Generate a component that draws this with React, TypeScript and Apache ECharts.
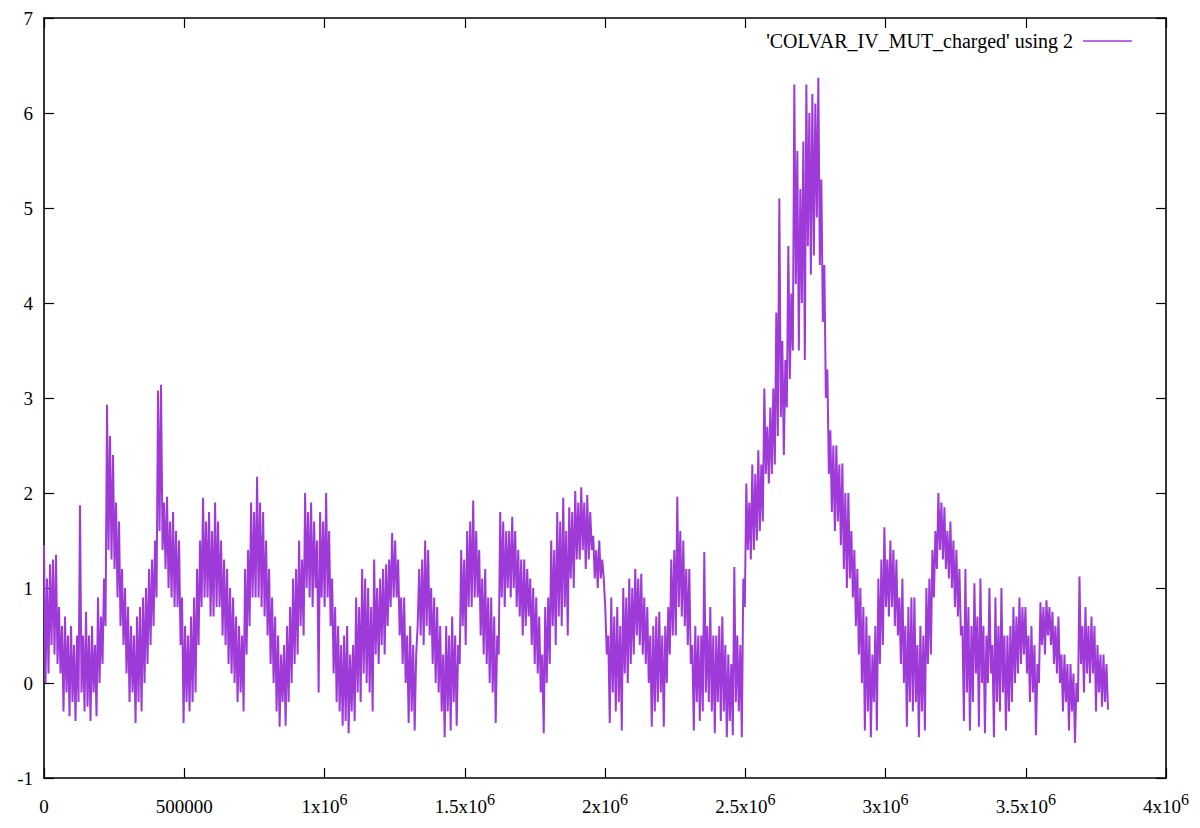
import React, { useEffect, useRef } from 'react';
import * as echarts from 'echarts';

// x is the row index of the COLVAR file ("using 2"), one sample every SAMPLE_STEP rows
const SAMPLE_STEP = 5350;

const COLVAR_VALUES: number[] = [
  1.45, 0.0, 1.1, 0.1, 1.25, 0.4, 1.3, 0.3, 1.35, 0.2, 0.8, 0.1, 0.6, -0.3, 0.7, -0.1, 0.5, -0.35, 0.6, -0.2,
  0.4, -0.4, 0.5, -0.2, 1.87, -0.1, 0.5, -0.3, 0.75, -0.25, 0.5, -0.4, 0.6, -0.1, 0.4, -0.35, 0.9, 0.0, 0.7, 0.2,
  1.1, 0.6, 2.93, 1.4, 2.6, 1.3, 2.4, 1.2, 1.9, 0.9, 1.7, 0.6, 1.2, 0.4, 1.0, 0.1, 0.8, -0.2, 0.6, -0.1,
  0.5, -0.42, 0.7, -0.2, 0.8, -0.3, 0.9, 0.0, 1.0, 0.2, 1.2, 0.4, 1.3, 0.6, 1.5, 0.9, 3.08, 1.6, 3.14, 1.4,
  1.9, 1.2, 1.96, 1.0, 1.7, 0.9, 1.8, 0.8, 1.6, 0.8, 1.5, 0.4, 0.9, -0.42, 0.6, -0.2, 0.5, -0.3, 0.7, -0.2,
  0.9, -0.1, 1.2, 0.4, 1.5, 0.8, 1.95, 0.9, 1.7, 0.9, 1.8, 0.7, 1.6, 0.7, 1.9, 0.8, 1.7, 0.8, 1.5, 0.5,
  1.3, 0.4, 1.2, 0.2, 1.0, 0.1, 0.9, 0.0, 0.7, -0.2, 0.6, -0.1, 0.5, -0.3, 1.2, 0.3, 1.4, 0.6, 1.9, 0.9,
  1.8, 0.9, 2.17, 0.9, 1.9, 0.8, 1.8, 0.7, 1.5, 0.5, 1.2, 0.2, 0.9, 0.0, 0.7, -0.3, 0.5, -0.46, 0.3, -0.2,
  0.4, -0.45, 0.6, -0.2, 0.8, 0.0, 1.1, 0.2, 1.2, 0.3, 1.5, 0.6, 1.3, 0.5, 2.0, 1.0, 1.8, 0.9, 1.9, 0.8,
  1.7, 1.0, 1.5, -0.1, 1.8, 0.9, 1.7, 0.8, 2.0, 0.9, 1.6, 0.6, 1.1, 0.1, 0.8, -0.2, 0.6, -0.3, 0.4, -0.45,
  0.5, -0.4, 0.6, -0.53, 0.3, -0.3, 0.4, -0.4, 0.9, -0.1, 0.8, -0.2, 1.2, 0.1, 1.1, 0.0, 1.0, -0.1, 0.8, -0.3,
  1.3, 0.3, 1.0, 0.2, 1.1, 0.4, 1.2, 0.3, 1.25, 0.6, 1.3, 0.8, 1.58, 0.9, 1.5, 0.9, 1.3, 0.5, 0.9, 0.2,
  0.9, 0.0, 0.5, -0.42, 0.6, -0.3, 0.4, -0.5, 0.3, 0.6, 1.2, 0.5, 1.3, 0.4, 1.5, 0.6, 1.4, 0.5, 1.0, 0.2,
  0.9, 0.0, 0.8, -0.1, 0.6, -0.3, 0.3, -0.57, 0.6, -0.3, 0.5, -0.5, 0.7, -0.2, 0.5, -0.45, 0.4, 0.2, 1.4, 0.6,
  1.3, 0.4, 1.6, 0.8, 1.7, 0.8, 1.92, 0.9, 1.6, 0.9, 1.4, 0.5, 1.1, 0.3, 1.2, 0.2, 0.9, 0.0, 0.9, -0.1,
  0.7, -0.42, 0.5, 0.3, 1.8, 0.9, 1.7, 0.8, 1.6, 1.0, 1.6, 0.9, 1.75, 1.0, 1.6, 0.8, 1.4, 0.7, 1.3, 0.5,
  1.3, 0.6, 1.2, 0.7, 1.1, 0.4, 1.0, 0.2, 0.9, 0.1, 0.7, -0.1, 0.3, -0.53, 0.8, 0.0, 0.9, 0.2, 1.5, 0.6,
  1.4, 0.4, 1.8, 0.7, 1.7, 0.6, 1.95, 0.8, 1.6, 0.5, 1.85, 1.1, 1.8, 1.0, 2.02, 1.3, 1.9, 1.3, 2.06, 1.4,
  1.9, 1.2, 1.98, 1.3, 1.8, 1.4, 1.55, 1.1, 1.4, 1.0, 1.5, 1.1, 1.3, 1.1, 0.8, 0.3, 0.5, -0.42, 0.9, -0.1,
  0.7, -0.3, 0.8, -0.2, 0.6, -0.5, 1.0, 0.1, 0.9, 0.0, 1.1, 0.2, 1.0, 0.3, 1.2, 0.5, 1.1, 0.4, 1.15, 0.3,
  0.9, 0.2, 0.8, 0.0, 0.5, -0.46, 0.6, -0.3, 0.7, -0.2, 0.75, -0.1, 0.5, -0.46, 0.6, 0.0, 0.8, 0.3, 1.3, 0.5,
  1.4, 0.5, 1.96, 0.8, 1.6, 0.7, 1.5, 0.6, 1.2, 0.4, 1.2, 0.2, 0.4, -0.5, 0.6, -0.2, 0.5, -0.4, 0.5, -0.3,
  1.38, -0.1, 0.6, -0.2, 0.8, -0.3, 0.5, -0.53, 0.5, -0.2, 0.6, -0.4, 0.7, -0.3, 0.4, -0.57, 0.3, -0.4, 0.2, -0.55,
  1.22, -0.2, 0.5, -0.3, 0.4, -0.57, 1.1, 0.8, 2.1, 1.4, 1.9, 1.3, 2.3, 1.4, 2.2, 1.5, 2.45, 1.6, 2.3, 1.7,
  3.1, 2.2, 2.7, 2.1, 2.9, 2.2, 3.1, 2.3, 3.9, 2.6, 5.1, 2.8, 3.6, 2.4, 3.4, 2.9, 4.6, 3.2, 4.1, 3.5,
  6.3, 4.2, 5.6, 3.5, 5.2, 4.0, 5.7, 3.4, 6.3, 4.6, 6.0, 4.3, 6.2, 4.5, 6.1, 4.9, 6.37, 4.4, 5.3, 3.8,
  4.4, 3.0, 3.3, 2.2, 2.66, 1.8, 2.5, 1.6, 2.5, 1.7, 2.3, 1.45, 2.31, 1.2, 2.0, 1.0, 2.0, 1.1, 1.6, 0.9,
  1.4, 0.6, 1.2, 0.3, 1.0, 0.0, 0.8, -0.5, 0.7, -0.3, 0.5, -0.57, 0.3, -0.2, 0.6, -0.5, 1.1, 0.2, 1.3, 0.4,
  1.64, 0.8, 1.3, 0.7, 1.5, 0.8, 1.4, 0.6, 1.3, 0.5, 0.9, 0.2, 1.1, 0.0, 0.6, -0.46, 0.8, -0.2, 0.9, -0.3,
  0.9, -0.2, 0.4, -0.57, 0.6, -0.3, 0.5, -0.5, 1.0, 0.2, 1.1, 0.3, 1.4, 0.9, 1.6, 1.2, 2.0, 1.4, 1.9, 1.3,
  1.85, 1.2, 1.6, 1.1, 1.7, 1.0, 1.5, 0.8, 1.4, 0.7, 1.2, 0.5, 0.6, -0.4, 1.2, -0.1, 0.8, -0.5, 0.6, -0.2,
  1.05, 0.1, 0.7, -0.46, 1.1, 0.0, 0.6, -0.53, 0.5, 0.0, 1.0, 0.1, 0.4, -0.57, 0.9, -0.2, 0.6, -0.3, 1.0, -0.1,
  0.5, -0.5, 0.5, -0.3, 0.6, -0.2, 0.8, 0.0, 0.7, 0.1, 0.9, 0.2, 0.8, 0.3, 0.8, 0.1, 0.5, -0.2, 0.6, -0.1,
  0.4, -0.55, 0.2, 0.0, 0.85, 0.4, 0.8, 0.3, 0.87, 0.5, 0.8, 0.4, 0.75, 0.2, 0.6, 0.1, 0.7, 0.0, 0.3, -0.3,
  0.3, -0.2, 0.2, -0.5, 0.2, -0.3, 0.1, -0.63, 0.0, -0.2, 1.12, 0.2, 0.6, -0.1, 0.8, 0.1, 0.6, 0.0, 0.7, 0.1,
  0.6, -0.3, 0.4, -0.1, 0.3, -0.25, 0.3, -0.2, 0.2, -0.28,
];

const SERIES_NAME = "'COLVAR_IV_MUT_charged' using 2";
const X_MIN = 0;
const X_MAX = 4000000;
const X_INTERVAL = 500000;
const Y_MIN = -1;
const Y_MAX = 7;
const Y_INTERVAL = 1;

const FONT = "Liberation Serif, 'Times New Roman', Times, serif";
const LINE_COLOR = '#9e3ad8';

function formatX(v: number): string {
  if (v === 0) return '0';
  if (v < 1000000) return String(v);
  return `${v / 1000000}x10{sup|6}`;
}

export default function App() {
  const ref = useRef<HTMLDivElement>(null);

  useEffect(() => {
    const chart = echarts.init(ref.current!, null, { renderer: 'svg' });
    const data = COLVAR_VALUES.map((v, i) => [i * SAMPLE_STEP, v]);

    const axisLine = { show: true, onZero: false, lineStyle: { color: '#000', width: 1.6 } };
    const axisTick = { show: true, inside: true, length: 10, lineStyle: { color: '#000', width: 1.2 } };

    chart.setOption({
      animation: false,
      backgroundColor: '#fff',
      grid: { left: 44, right: 34, top: 18, bottom: 50, containLabel: false },
      xAxis: [
        {
          type: 'value',
          min: X_MIN,
          max: X_MAX,
          interval: X_INTERVAL,
          position: 'bottom',
          axisLine,
          axisTick,
          splitLine: { show: false },
          axisLabel: {
            show: true,
            margin: 13,
            color: '#000',
            fontFamily: FONT,
            fontSize: 19,
            lineHeight: 30,
            formatter: formatX,
            rich: {
              sup: { fontSize: 16, lineHeight: 15, verticalAlign: 'top', fontFamily: FONT, color: '#000' },
            },
          },
        },
        {
          type: 'value',
          min: X_MIN,
          max: X_MAX,
          interval: X_INTERVAL,
          position: 'top',
          axisLine,
          axisTick,
          splitLine: { show: false },
          axisLabel: { show: false },
        },
      ],
      yAxis: [
        {
          type: 'value',
          min: Y_MIN,
          max: Y_MAX,
          interval: Y_INTERVAL,
          position: 'left',
          axisLine,
          axisTick,
          splitLine: { show: false },
          axisLabel: { show: true, margin: 11, color: '#000', fontFamily: FONT, fontSize: 19 },
        },
        {
          type: 'value',
          min: Y_MIN,
          max: Y_MAX,
          interval: Y_INTERVAL,
          position: 'right',
          axisLine,
          axisTick,
          splitLine: { show: false },
          axisLabel: { show: false },
        },
      ],
      series: [
        {
          name: SERIES_NAME,
          type: 'line',
          xAxisIndex: 0,
          yAxisIndex: 0,
          data,
          showSymbol: false,
          symbol: 'none',
          lineStyle: { color: LINE_COLOR, width: 2 },
          itemStyle: { color: LINE_COLOR },
        },
      ],
      graphic: [
        {
          type: 'text',
          x: 1073,
          y: 41,
          style: {
            text: SERIES_NAME,
            fill: '#000',
            fontFamily: FONT,
            fontSize: 20,
            align: 'right',
            verticalAlign: 'middle',
          },
        },
        {
          type: 'line',
          shape: { x1: 1083, y1: 41, x2: 1132, y2: 41 },
          style: { stroke: LINE_COLOR, lineWidth: 1.3 },
        },
      ],
    });

    return () => chart.dispose();
  }, []);

  return (
    <div
      ref={ref}
      style={{ position: 'fixed', left: 0, top: 0, width: 1200, height: 828, background: '#fff' }}
    />
  );
}
